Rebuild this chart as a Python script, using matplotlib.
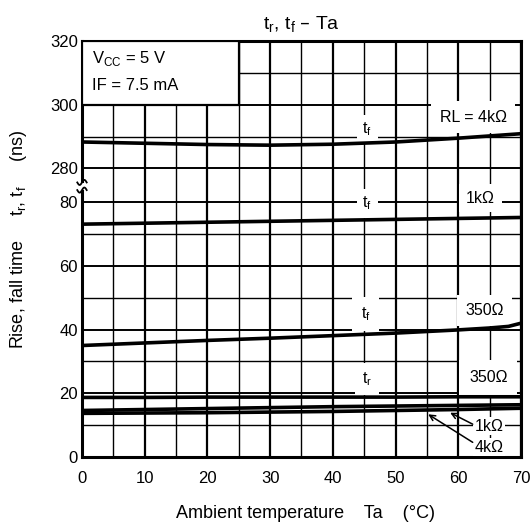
import matplotlib
matplotlib.use('Agg')
import matplotlib.pyplot as plt
import numpy as np
from matplotlib.patches import Rectangle

plt.rcParams['font.family'] = ['Liberation Sans', 'DejaVu Sans']

# données (Ta en °C, temps en ns)
temp = [0, 10, 20, 30, 40, 50, 60, 70]
tf_4k = [288.3, 287.9, 287.5, 287.3, 287.6, 288.3, 289.5, 290.9]
tf_1k = [73.1, 73.4, 73.7, 74.0, 74.3, 74.6, 74.9, 75.2]
temp_350 = [0, 10, 20, 30, 40, 50, 60, 65, 68, 70]
tf_350 = [35.0, 35.8, 36.6, 37.3, 38.1, 38.9, 39.9, 40.5, 41.0, 42.0]
tr_350 = [18.7, 18.7, 18.8, 18.8, 18.8, 18.8, 18.9, 18.9]
tr_1k = [14.6, 14.9, 15.2, 15.5, 15.8, 16.0, 16.2, 16.4]
tr_4k = [13.7, 13.8, 13.9, 14.1, 14.3, 14.6, 14.9, 15.3]

lower_ticks = [0, 20, 40, 60, 80]
upper_ticks = [280, 300, 320]
GAP = 10.6  # hauteur de la coupure entre 80 et 280


def to_axis(y):
    y = np.asarray(y, dtype=float)
    return np.where(y <= 80, y, y - 280 + 80 + GAP)


fig = plt.figure(figsize=(5.3, 5.28), dpi=100)
ax = fig.add_axes([0.1547, 0.1345, 0.983 - 0.1547, 0.9223 - 0.1345])

ymax = float(to_axis(320))
ax.set_xlim(0, 70)
ax.set_ylim(0, ymax)

# grille
ax.set_xticks(np.arange(0, 71, 10))
ax.set_xticks(np.arange(5, 70, 10), minor=True)
ax.set_yticks(to_axis(lower_ticks + upper_ticks))
ax.set_yticklabels([str(v) for v in lower_ticks + upper_ticks])
ax.set_yticks(to_axis([10, 30, 50, 70, 290, 310]), minor=True)
ax.tick_params(axis='both', which='both', length=0, labelsize=12)
ax.tick_params(axis='x', pad=10)
ax.tick_params(axis='y', pad=3)
ax.grid(axis='x', which='major', color='black', lw=1.6, zorder=1)
ax.grid(axis='x', which='minor', color='black', lw=1.0, zorder=1)
ax.grid(axis='y', which='major', color='black', lw=1.4, zorder=1)
ax.grid(axis='y', which='minor', color='black', lw=1.0, zorder=1)
ax.set_axisbelow(True)
for s in ax.spines.values():
    s.set_linewidth(2.2)

# courbes
lw = 2.6
ax.plot(temp, to_axis(tf_4k), color='black', lw=lw, zorder=5)
ax.plot(temp, to_axis(tf_1k), color='black', lw=lw, zorder=5)
ax.plot(temp_350, to_axis(tf_350), color='black', lw=lw, zorder=5)
ax.plot(temp, to_axis(tr_350), color='black', lw=lw, zorder=5)
ax.plot(temp, to_axis(tr_1k), color='black', lw=lw, zorder=5)
ax.plot(temp, to_axis(tr_4k), color='black', lw=lw, zorder=5)

# étiquettes
fs = 11.5


def wbox(p):
    return dict(facecolor='white', edgecolor='none', pad=p)


ax.text(45.5, float(to_axis(292.2)), 't$_\\mathregular{f}$', fontsize=fs, ha='center', va='center',
        bbox=wbox(4), zorder=3)
ax.text(62.4, float(to_axis(296.1)), 'RL = 4k\u03a9', fontsize=fs, ha='center', va='center',
        bbox=wbox(6), zorder=3)
ax.text(45.5, 79.6, 't$_\\mathregular{f}$', fontsize=fs, ha='center', va='center', bbox=wbox(4), zorder=3)
ax.text(63.5, 81.3, '1k\u03a9', fontsize=fs, ha='center', va='center', bbox=wbox(5), zorder=3)
ax.text(45.2, 45.0, 't$_\\mathregular{f}$', fontsize=fs, ha='center', va='center', bbox=wbox(6), zorder=3)
ax.text(64.2, 46.0, '350\u03a9', fontsize=fs, ha='center', va='center', bbox=wbox(6), zorder=3)
ax.text(45.5, 24.5, 't$_\\mathregular{r}$', fontsize=fs, ha='center', va='center', bbox=wbox(5), zorder=3)
ax.text(64.8, 25.0, '350\u03a9', fontsize=fs, ha='center', va='center', bbox=wbox(7), zorder=3)
ax.text(62.6, 9.6, '1k\u03a9', fontsize=fs, ha='left', va='center', bbox=wbox(1), zorder=3)
ax.text(62.6, 3.1, '4k\u03a9', fontsize=fs, ha='left', va='center', bbox=wbox(1), zorder=3)
ax.annotate('', xy=(58.7, 13.9), xytext=(62.3, 10.3),
            arrowprops=dict(arrowstyle='->', color='black', lw=1.1, shrinkA=0, shrinkB=0), zorder=6)
ax.annotate('', xy=(55.2, 13.4), xytext=(62.3, 4.6),
            arrowprops=dict(arrowstyle='->', color='black', lw=1.1, shrinkA=0, shrinkB=0), zorder=6)

# cadre des conditions
ax.add_patch(Rectangle((0, float(to_axis(300))), 25, float(to_axis(320) - to_axis(300)),
                       facecolor='white', edgecolor='black', lw=1.6, zorder=4))
ax.text(1.6, float(to_axis(314.4)), 'V$_\\mathregular{CC}$ = 5 V', fontsize=12, ha='left', va='center', zorder=6)
ax.text(1.6, float(to_axis(305.9)), 'IF = 7.5 mA', fontsize=12, ha='left', va='center', zorder=6)

# symbole de coupure sur l'axe
yb = 85.0
t = np.linspace(-1, 1, 30)
ax.plot(t * 0.75, np.full_like(t, yb), color='white', lw=5, clip_on=False, zorder=7)
for dy in (-1.2, 1.2):
    ax.plot(t * 0.75, yb + dy + 0.8 * np.sin(t * np.pi), color='black', lw=1.3,
            clip_on=False, zorder=8)

ax.set_title('t$_\\mathregular{r}$, t$_\\mathregular{f}$ \u2013 Ta', fontsize=14, pad=8)
ax.set_xlabel('Ambient temperature    Ta    (\u00b0C)', fontsize=13)
ax.set_ylabel('Rise, fall time     t$_\\mathregular{r}$, t$_\\mathregular{f}$     (ns)', fontsize=13)
ax.xaxis.label.set_va('center')
ax.yaxis.label.set_va('center')
ax.xaxis.set_label_coords(0.508, -0.135)
ax.yaxis.set_label_coords(-0.1435, 0.524)

fig.savefig('out.png', dpi=100)
